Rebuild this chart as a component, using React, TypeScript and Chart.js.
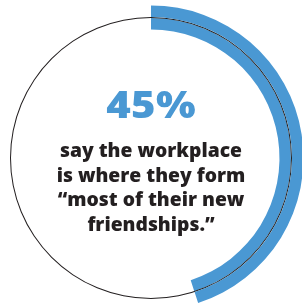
import React, { useEffect, useRef } from "react";
import { Chart, registerables } from "chart.js";

Chart.register(...registerables);

const shareLabels = ["Workplace", "Elsewhere"];
const shareValues = [45, 55];
const headline = "45%";
const captionLines = [
  "say the workplace",
  "is where they form",
  "\u201Cmost of their new",
  "friendships.\u201D",
];

const BLUE = "#4a98d3";
const INK = "#231f20";

export default function App() {
  const ref = useRef<HTMLCanvasElement | null>(null);

  useEffect(() => {
    if (!ref.current) return;
    const outer = 152.5;
    const inner = 128.5;
    const chart = new Chart(ref.current, {
      type: "doughnut",
      data: {
        labels: shareLabels,
        datasets: [
          {
            data: shareValues,
            backgroundColor: [BLUE, "rgba(0,0,0,0)"],
            borderWidth: 0,
            weight: 11.5,
          },
          {
            data: [100],
            backgroundColor: [INK],
            borderWidth: 0,
            weight: 1,
          },
          {
            data: shareValues,
            backgroundColor: [BLUE, "rgba(0,0,0,0)"],
            borderWidth: 0,
            weight: 11.5,
          },
        ],
      },
      options: {
        responsive: false,
        animation: false,
        devicePixelRatio: 1,
        events: [],
        radius: outer,
        cutout: `${(inner / outer) * 100}%`,
        rotation: 0,
        layout: { padding: 0 },
        plugins: {
          legend: { display: false },
          tooltip: { enabled: false },
        },
      } as any,
    });
    return () => chart.destroy();
  }, []);

  return (
    <div
      style={{
        position: "fixed",
        left: 0,
        top: 0,
        width: 302,
        height: 306,
        overflow: "hidden",
        background: "#fff",
      }}
    >
      <canvas
        ref={ref}
        width={320}
        height={320}
        style={{ position: "absolute", left: -9, top: -2.5, width: 320, height: 320 }}
      />
      <div
        style={{
          position: "absolute",
          left: 0,
          width: 302,
          top: 86.2,
          textAlign: "center",
        }}
      >
        <span
          style={{
            display: "inline-block",
            transform: "scaleX(1.15)",
            fontFamily: "'Open Sans', sans-serif",
            fontWeight: 800,
            fontSize: 36.4,
            lineHeight: "36px",
            color: BLUE,
            letterSpacing: 0.3,
          }}
        >
          {headline}
        </span>
      </div>
      <div
        style={{
          position: "absolute",
          left: 0,
          width: 302,
          top: 138.3,
          textAlign: "center",
          fontFamily: "'Open Sans', sans-serif",
          fontWeight: 800,
          fontSize: 19.3,
          lineHeight: "24.5px",
          color: INK,
        }}
      >
        {captionLines.map((l, i) => (
          <div key={i}>{l}</div>
        ))}
      </div>
    </div>
  );
}
